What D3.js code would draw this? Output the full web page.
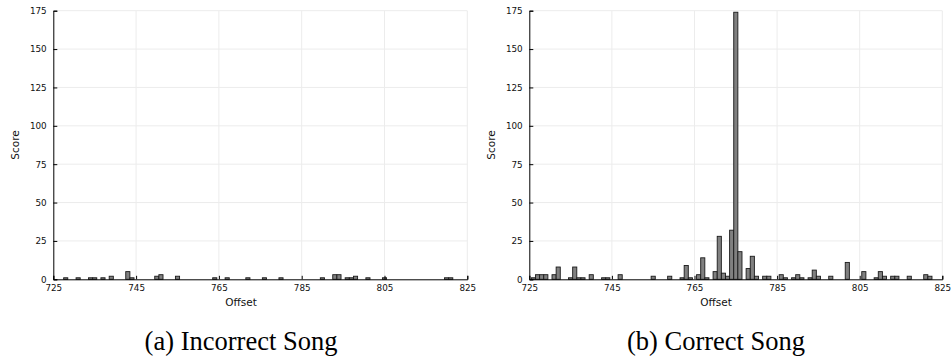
<!DOCTYPE html>
<html>
<head>
<meta charset="utf-8">
<script src="https://cdn.jsdelivr.net/npm/d3@7"></script>
<style>
  body { margin: 0; background: #fff; }
  svg { display: block; }
</style>
</head>
<body>
<div id="chart"></div>
<script>
// Data
const incorrectOffsets = [728, 731, 734, 735, 737, 739, 743, 744, 750, 751, 755, 764, 767, 772, 776, 780, 790, 793, 794, 796, 797, 798, 801, 805, 820, 821];
const incorrectScores  = [1, 1, 1, 1, 1, 2, 5, 1, 2, 3, 2, 1, 1, 1, 1, 1, 1, 3, 3, 1, 1, 2, 1, 1, 1, 1];

const correctOffsets = [726, 727, 728, 729, 731, 732, 735, 736, 737, 738, 740, 743, 744, 747, 755, 759, 762, 763, 764, 766, 767, 768, 770, 771, 772, 773, 774, 775, 776, 778, 779, 780, 782, 783, 786, 787, 789, 790, 791, 793, 794, 795, 798, 802, 806, 809, 810, 811, 813, 814, 817, 821, 822];
const correctScores  = [1, 3, 3, 3, 3, 8, 1, 8, 1, 1, 3, 1, 1, 3, 2, 2, 1, 9, 1, 3, 14, 1, 5, 28, 4, 2, 32, 174, 18, 7, 15, 2, 2, 2, 3, 1, 1, 3, 1, 1, 6, 2, 2, 11, 5, 1, 5, 2, 2, 2, 2, 3, 2];

const xTicks = [725, 745, 765, 785, 805, 825];
const yTicks = [0, 25, 50, 75, 100, 125, 150, 175];
const captions = ["(a) Incorrect Song", "(b) Correct Song"];

const width = 952;
const height = 363;
const plotTop = 10.7, plotBottom = 279.3;

const svg = d3.select("#chart")
  .append("svg")
  .attr("width", width)
  .attr("height", height);

const panels = [
  { left: 53.3, right: 467.3, offsets: incorrectOffsets, scores: incorrectScores, caption: captions[0], labelX: 241 },
  { left: 529.3, right: 942.3, offsets: correctOffsets, scores: correctScores, caption: captions[1], labelX: 716 }
];

panels.forEach(p => {
  const data = p.offsets.map((o, i) => ({ offset: o, score: p.scores[i] }));

  const x = d3.scaleLinear().domain([725, 825]).range([p.left, p.right]);
  const y = d3.scaleLinear().domain([0, 175]).range([plotBottom, plotTop]);

  const g = svg.append("g");

  // grid
  g.append("g")
    .selectAll("line")
    .data(xTicks.slice(1))
    .join("line")
    .attr("x1", d => x(d)).attr("x2", d => x(d))
    .attr("y1", plotTop).attr("y2", plotBottom)
    .attr("stroke", "#ececec")
    .attr("stroke-width", 1);

  g.append("g")
    .selectAll("line")
    .data(yTicks.slice(1))
    .join("line")
    .attr("x1", p.left).attr("x2", p.right)
    .attr("y1", d => y(d)).attr("y2", d => y(d))
    .attr("stroke", "#ececec")
    .attr("stroke-width", 1);

  // bars
  g.append("g")
    .selectAll("rect")
    .data(data)
    .join("rect")
    .attr("x", d => x(d.offset - 0.5))
    .attr("width", d => x(d.offset + 0.5) - x(d.offset - 0.5))
    .attr("y", d => y(d.score))
    .attr("height", d => y(0) - y(d.score))
    .attr("fill", "#808080")
    .attr("stroke", "#1a1a1a")
    .attr("stroke-width", 0.9);

  // axes (ticks point inward like the original)
  const xAxis = d3.axisBottom(x).tickValues(xTicks).tickSize(-3.5).tickPadding(8).tickFormat(d3.format("d"));
  const yAxis = d3.axisLeft(y).tickValues(yTicks).tickSize(-4).tickPadding(6.6);

  const gx = g.append("g")
    .attr("transform", `translate(0,${plotBottom})`)
    .call(xAxis);
  const gy = g.append("g")
    .attr("transform", `translate(${p.left},0)`)
    .call(yAxis);

  [gx, gy].forEach(a => {
    a.select(".domain").attr("stroke", "#000").attr("stroke-width", 1);
    a.selectAll(".tick line").attr("stroke", "#000");
    a.selectAll(".tick text")
      .attr("fill", "#111")
      .attr("font-family", "DejaVu Sans")
      .attr("font-size", "8.8px");
  });
  gx.selectAll(".tick text").attr("dy", "0.45em");

  // axis labels
  g.append("text")
    .attr("x", p.labelX)
    .attr("y", 306)
    .attr("text-anchor", "middle")
    .attr("font-family", "DejaVu Sans")
    .attr("font-size", "10.5px")
    .attr("fill", "#111")
    .text("Offset");

  g.append("text")
    .attr("transform", "rotate(-90)")
    .attr("x", -(plotTop + plotBottom) / 2)
    .attr("y", p.left - 34)
    .attr("text-anchor", "middle")
    .attr("font-family", "DejaVu Sans")
    .attr("font-size", "10.5px")
    .attr("fill", "#111")
    .text("Score");

  // caption under each panel
  g.append("text")
    .attr("x", p.labelX)
    .attr("y", 350)
    .attr("text-anchor", "middle")
    .attr("font-family", "Liberation Serif")
    .attr("font-size", "26.5px")
    .attr("fill", "#000")
    .text(p.caption);
});
</script>
</body>
</html>
